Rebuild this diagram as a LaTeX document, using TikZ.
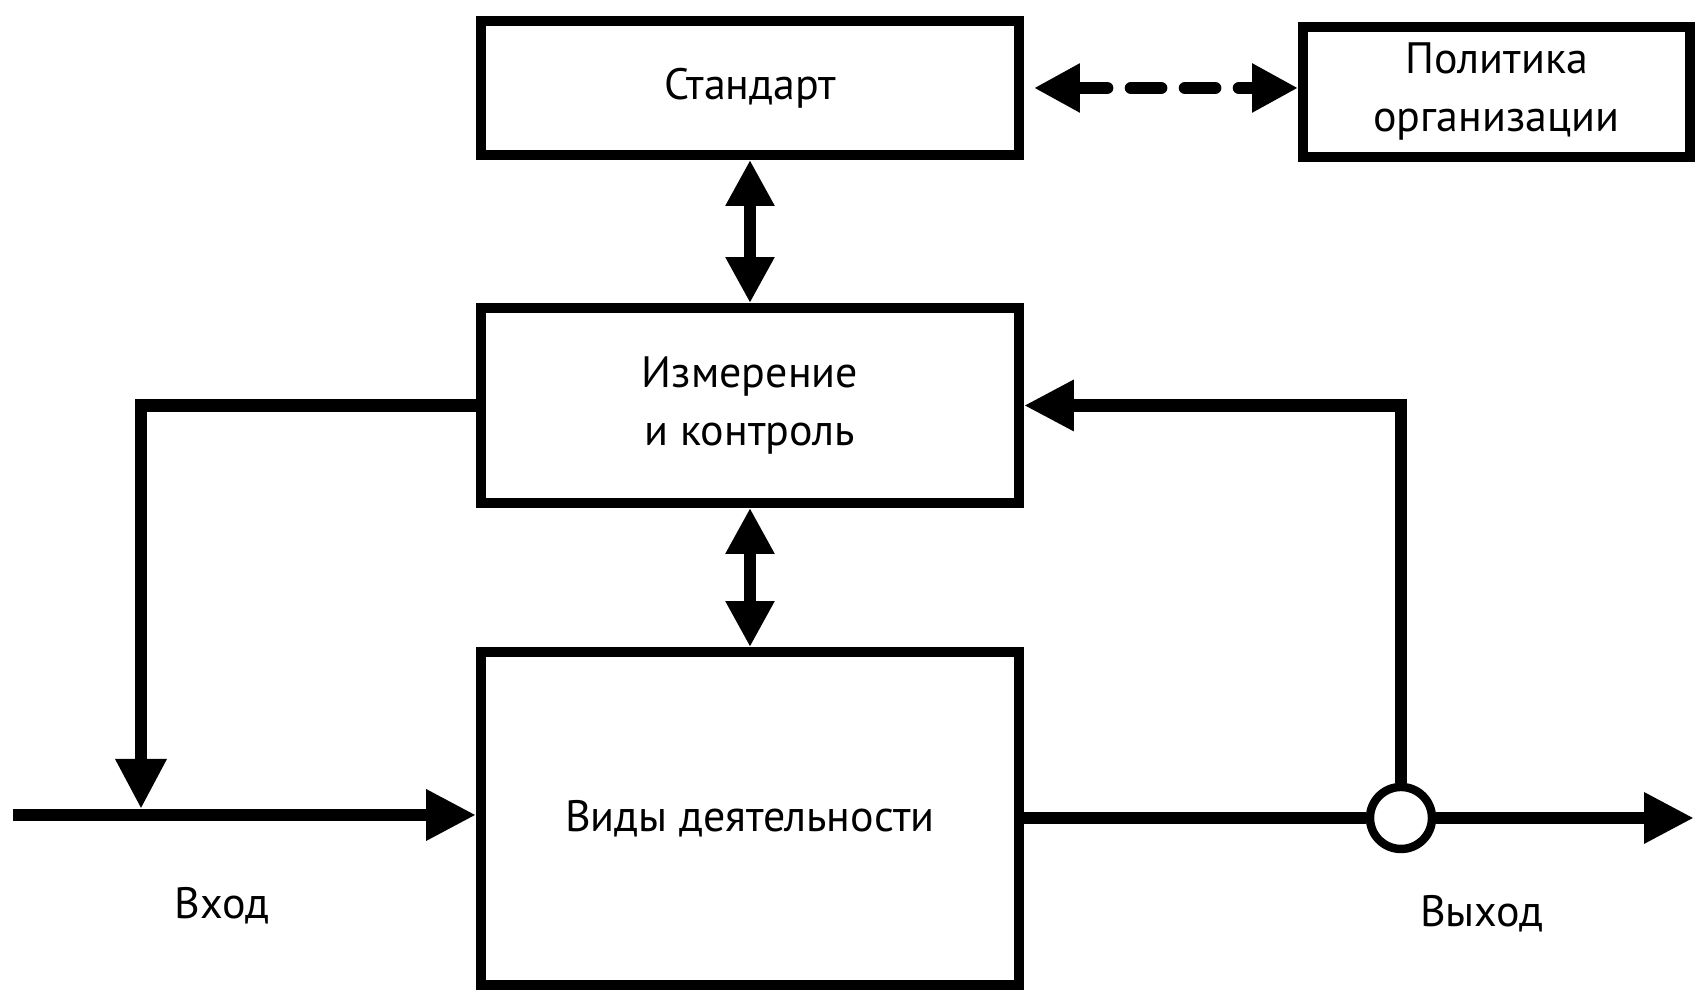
\documentclass[tikz,border=0pt]{standalone}
\usepackage{fontspec}
\setmainfont{PT Sans}
\usetikzlibrary{arrows.meta,positioning,calc}
\tikzset{
  blockbox/.style={draw=black, line width=2.8pt, fill=white, align=center, inner sep=4pt, font=\fontsize{12.5}{16.5}\selectfont},
  flowline/.style={-{Triangle[length=0.5cm,width=0.48cm]}, line width=3.6pt},
  twoway/.style={{Triangle[length=0.46cm,width=0.46cm]}-{Triangle[length=0.46cm,width=0.46cm]}, line width=3.6pt},
  plainline/.style={line width=3.6pt},
  joint/.style={circle, draw=black, fill=white, line width=2.4pt, minimum size=0.62cm, inner sep=0pt},
  caption/.style={font=\fontsize{12.5}{15}\selectfont},
}
\begin{document}
\begin{tikzpicture}[x=1cm,y=1cm]
\path[use as bounding box] (0,0) rectangle (16.96,9.94);
\node[blockbox,minimum width=5.38cm,minimum height=1.34cm] (std) at (7.50,9.06) {Стандарт};
\node[blockbox,minimum width=3.87cm,minimum height=1.30cm] (pol) at (14.965,9.02) {Политика\\организации};
\node[blockbox,minimum width=5.38cm,minimum height=1.95cm] (meas) at (7.50,5.885) {Измерение\\и контроль};
\node[blockbox,minimum width=5.38cm,minimum height=3.33cm] (work) at (7.50,1.755) {Виды деятельности};
\node[joint] (jn) at (14.01,1.76) {};
\coordinate (in) at (0.13,1.79);
\coordinate (tap) at (1.41,1.79);
\coordinate (out) at (16.94,1.76);
\node[caption] (inlabel) at (2.22,0.88) {Вход};
\node[caption] (outlabel) at (14.82,0.80) {Выход};
% links between blocks
\draw[twoway] (std) -- (meas);
\draw[twoway] (meas) -- (work);
\draw[twoway,dash pattern=on 0.3cm off 0.24cm,line cap=round,shorten <=0.1cm] (std.east) -- (std.east -| pol.west);
% input and output
\draw[flowline] (in) -- (in -| work.west);
\draw[plainline] (work.east |- jn) -- (jn.west);
\draw[flowline] (jn.east) -- (out);
% feedback loops
\draw[flowline,shorten >=0.06cm] (meas.west) -| (tap);
\draw[flowline] (jn.north) |- (meas.east);
\end{tikzpicture}
\end{document}
